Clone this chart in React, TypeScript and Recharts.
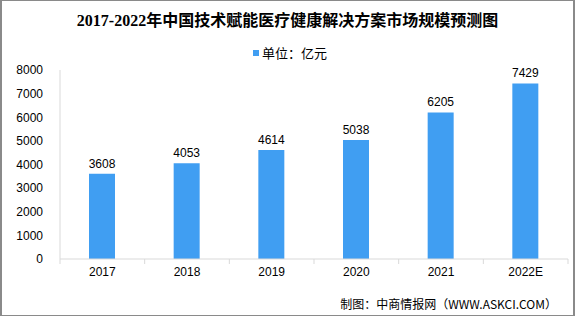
import React from "react";
import { BarChart, Bar, XAxis, YAxis, LabelList } from "recharts";

const categories = ["2017", "2018", "2019", "2020", "2021", "2022E"];
const values = [3608, 4053, 4614, 5038, 6205, 7429];
const yTicks = [0, 1000, 2000, 3000, 4000, 5000, 6000, 7000, 8000];

const title = "2017-2022年中国技术赋能医疗健康解决方案市场规模预测图";
const legendLabel = "单位：亿元";
const source = "制图：中商情报网（WWW.ASKCI.COM）";

const data = categories.map((c, i) => ({ name: c, value: values[i] }));

const W = 575;
const H = 316;
const BAR_COLOR = "#409EF2";
const AXIS_COLOR = "#D9D9D9";
const TICK_FONT = "'Liberation Sans', 'Noto Sans CJK SC', sans-serif";

const CategoryTick = (props: any) => {
  const { x, y, payload, index, visibleTicksCount } = props;
  const band = (W - 60 - 7) / categories.length;
  const n = visibleTicksCount ?? categories.length;
  return (
    <g>
      <line x1={x - band / 2} y1={y - 8} x2={x - band / 2} y2={y - 3} stroke={AXIS_COLOR} />
      {index === n - 1 && (
        <line x1={x + band / 2} y1={y - 8} x2={x + band / 2} y2={y - 3} stroke={AXIS_COLOR} />
      )}
      <text x={x} y={y + 9} textAnchor="middle" fontSize={12} fontFamily={TICK_FONT} fill="#000">
        {payload.value}
      </text>
    </g>
  );
};

export default function App() {
  return (
    <div
      style={{
        position: "absolute",
        left: 0,
        top: 0,
        width: W,
        height: H,
        background: "#fff",
        boxSizing: "border-box",
        borderTop: "1px solid #8a8a8a",
        borderBottom: "1px solid #8a8a8a",
        borderLeft: "2px solid #8a8a8a",
        borderRight: "2px solid #8a8a8a",
        overflow: "hidden",
      }}
    >
      <div style={{ position: "absolute", left: -2, top: -1 }}>
        <BarChart
          width={W}
          height={H}
          data={data}
          margin={{ top: 70, right: 7, bottom: 27, left: 10 }}
        >
          <XAxis
            dataKey="name"
            axisLine={{ stroke: AXIS_COLOR }}
            tickLine={false}
            tick={<CategoryTick />}
            height={30}
            interval={0}
          />
          <YAxis
            domain={[0, 8000]}
            ticks={yTicks}
            interval={0}
            width={50}
            axisLine={{ stroke: AXIS_COLOR }}
            tickLine={false}
            tickSize={0}
            tickMargin={17}
            tick={{ fontSize: 12, fill: "#000", fontFamily: TICK_FONT }}
          />
          <Bar dataKey="value" fill={BAR_COLOR} barSize={26} isAnimationActive={false}>
            <LabelList
              dataKey="value"
              position="top"
              offset={6}
              style={{ fontSize: 12, fill: "#000", fontFamily: TICK_FONT }}
            />
          </Bar>
        </BarChart>
      </div>
      <div
        style={{
          position: "absolute",
          left: -2,
          top: 10,
          width: W,
          textAlign: "center",
          fontFamily: "'Liberation Serif', 'Noto Sans CJK SC', serif",
          fontWeight: "bold",
          fontSize: 16,
          lineHeight: "20px",
          color: "#000",
        }}
      >
        {title}
      </div>
      <div
        style={{
          position: "absolute",
          left: 251,
          top: 43,
          display: "flex",
          alignItems: "center",
          fontFamily: "'Noto Sans CJK SC', sans-serif",
          fontSize: 13,
          lineHeight: "18px",
          color: "#000",
        }}
      >
        <span style={{ display: "inline-block", width: 6, height: 6, background: BAR_COLOR, marginRight: 3 }} />
        <span>{legendLabel}</span>
      </div>
      <div
        style={{
          position: "absolute",
          right: 16,
          top: 294,
          fontFamily: "'Noto Sans CJK SC', sans-serif",
          fontSize: 12,
          lineHeight: "18px",
          color: "#000",
          whiteSpace: "nowrap",
        }}
      >
        {source}
      </div>
    </div>
  );
}
